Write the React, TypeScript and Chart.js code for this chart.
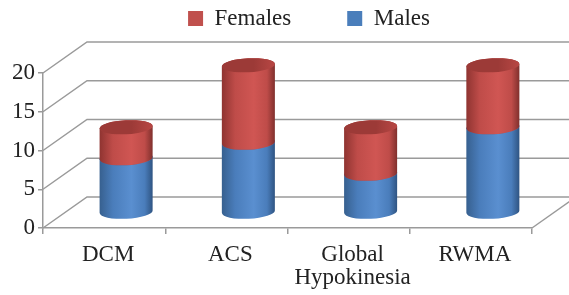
import React, { useEffect, useRef } from "react";
import { Chart, registerables } from "chart.js";

Chart.register(...registerables);

const categories: (string | string[])[] = ["DCM", "ACS", ["Global", "Hypokinesia"], "RWMA"];
const malesValues = [7, 9, 5, 11];
const femalesValues = [4, 10, 6, 8];
const yTicks = { min: 0, max: 20, step: 5 };

const DEPTH_X = 44;
const DEPTH_Y = -31;
const GRID_COLOR = "#9a9a9a";
const FONT = "'Liberation Serif', 'Times New Roman', serif";
const LEGEND_PAD = 56;
const LEGEND_SHIFT_X = 43;
const LEGEND_SHIFT_Y = -49;

const palettes: Record<string, { edge: string; mid: string; light: string; dark: string; top: string; topLight: string }> = {
  Males: { edge: "#37608f", mid: "#4a7dbb", light: "#5a8fd0", dark: "#2f5482", top: "#3f6ea8", topLight: "#5a8bc8" },
  Females: { edge: "#8f3431", mid: "#bf4c49", light: "#d05653", dark: "#80302d", top: "#9c3a37", topLight: "#b84744" },
};

const wallsPlugin = {
  id: "walls3d",
  beforeLayout(chart: any) {
    const lg = chart.legend;
    if (lg && !lg.__patched) {
      const origFit = lg.fit.bind(lg);
      lg.fit = function () {
        origFit();
        this.height = 73;
      };
      const origDraw = lg._draw.bind(lg);
      lg._draw = function () {
        const c = this.ctx;
        c.save();
        c.translate(LEGEND_SHIFT_X, LEGEND_SHIFT_Y);
        origDraw();
        c.restore();
      };
      lg.__patched = true;
    }
  },
  beforeDatasetsDraw(chart: any) {
    const ctx = chart.ctx;
    const { left, right } = chart.chartArea;
    const y = chart.scales.y;
    ctx.save();
    ctx.strokeStyle = GRID_COLOR;
    ctx.lineWidth = 1.5;
    for (let v = yTicks.min; v <= yTicks.max; v += yTicks.step) {
      const py = y.getPixelForValue(v);
      ctx.beginPath();
      ctx.moveTo(left, py);
      ctx.lineTo(left + DEPTH_X, py + DEPTH_Y);
      ctx.lineTo(right + DEPTH_X + 20, py + DEPTH_Y);
      ctx.stroke();
    }
    const p0 = y.getPixelForValue(0);
    ctx.beginPath();
    ctx.moveTo(right, p0);
    ctx.lineTo(right + DEPTH_X, p0 + DEPTH_Y);
    ctx.stroke();
    ctx.restore();
  },
  beforeDatasetDraw() {
    return false;
  },
  afterDatasetsDraw(chart: any) {
    const ctx = chart.ctx;
    const n = chart.data.labels.length;
    for (let i = 0; i < n; i++) {
      chart.data.datasets.forEach((ds: any, di: number) => {
        const meta = chart.getDatasetMeta(di);
        if (meta.hidden) return;
        const el: any = meta.data[i];
        if (!el) return;
        const pal = palettes[ds.label];
        const rx = el.width / 2;
        const ry = 7;
        const cx = el.x + DEPTH_X / 2;
        const yt = el.y + DEPTH_Y / 2;
        const yb = el.base + DEPTH_Y / 2;
        const rot = -0.05;
        ctx.save();
        const g = ctx.createLinearGradient(cx - rx, 0, cx + rx, 0);
        g.addColorStop(0, pal.edge);
        g.addColorStop(0.25, pal.mid);
        g.addColorStop(0.6, pal.light);
        g.addColorStop(0.85, pal.mid);
        g.addColorStop(1, pal.dark);
        ctx.fillStyle = g;
        ctx.beginPath();
        ctx.moveTo(cx - rx, yt);
        ctx.lineTo(cx - rx, yb);
        ctx.ellipse(cx, yb, rx, ry, rot, Math.PI, 0, true);
        ctx.lineTo(cx + rx, yt);
        ctx.ellipse(cx, yt, rx, ry, rot, 0, Math.PI, true);
        ctx.closePath();
        ctx.fill();
        const tg = ctx.createLinearGradient(cx - rx, 0, cx + rx, 0);
        tg.addColorStop(0, pal.top);
        tg.addColorStop(0.6, pal.top);
        tg.addColorStop(1, pal.topLight);
        ctx.fillStyle = tg;
        ctx.beginPath();
        ctx.ellipse(cx, yt, rx, ry, rot, 0, Math.PI * 2);
        ctx.fill();
        ctx.restore();
      });
    }
  },
};

export default function App() {
  const ref = useRef<HTMLCanvasElement | null>(null);
  useEffect(() => {
    if (!ref.current) return;
    const chart = new Chart(ref.current, {
      type: "bar",
      data: {
        labels: categories,
        datasets: [
          { label: "Males", data: malesValues, backgroundColor: "#4a7ebb", barPercentage: 0.434, categoryPercentage: 1 },
          { label: "Females", data: femalesValues, backgroundColor: "#c0504d", barPercentage: 0.434, categoryPercentage: 1 },
        ],
      },
      options: {
        animation: false,
        responsive: false,
        maintainAspectRatio: false,
        layout: { padding: { top: 0, right: 37, left: 0, bottom: 0 } },
        plugins: {
          legend: {
            position: "top",
            reverse: true,
            labels: {
              boxWidth: 15,
              boxHeight: 15,
              padding: LEGEND_PAD,
              color: "#222",
              font: { family: FONT, size: 23 },
              useBorderRadius: false,
            },
          },
          tooltip: { enabled: false },
        },
        scales: {
          x: {
            stacked: true,
            afterFit: (s: any) => {
              s.height = 67;
            },
            grid: { display: true, drawOnChartArea: false, offset: true, tickLength: 6, color: GRID_COLOR, lineWidth: 1.5 },
            border: { display: true, color: GRID_COLOR, width: 1.5 },
            ticks: { color: "#222", font: { family: FONT, size: 23, lineHeight: 1.0 }, padding: 9, labelOffset: 4, maxRotation: 0, autoSkip: false },
          },
          y: {
            stacked: true,
            min: yTicks.min,
            max: yTicks.max,
            afterFit: (s: any) => {
              s.width = 43;
            },
            grid: { display: true, drawOnChartArea: false, tickLength: 5, color: GRID_COLOR, lineWidth: 1.5 },
            border: { display: true, color: GRID_COLOR, width: 1.5 },
            ticks: { stepSize: yTicks.step, color: "#222", font: { family: FONT, size: 23 }, padding: 3 },
          },
        },
      },
      plugins: [wallsPlugin],
    });
    return () => chart.destroy();
  }, []);
  return (
    <div style={{ position: "fixed", left: 0, top: 0, width: 569, height: 295, background: "#fff" }}>
      <canvas ref={ref} width={569} height={295} style={{ width: 569, height: 295 }} />
    </div>
  );
}
